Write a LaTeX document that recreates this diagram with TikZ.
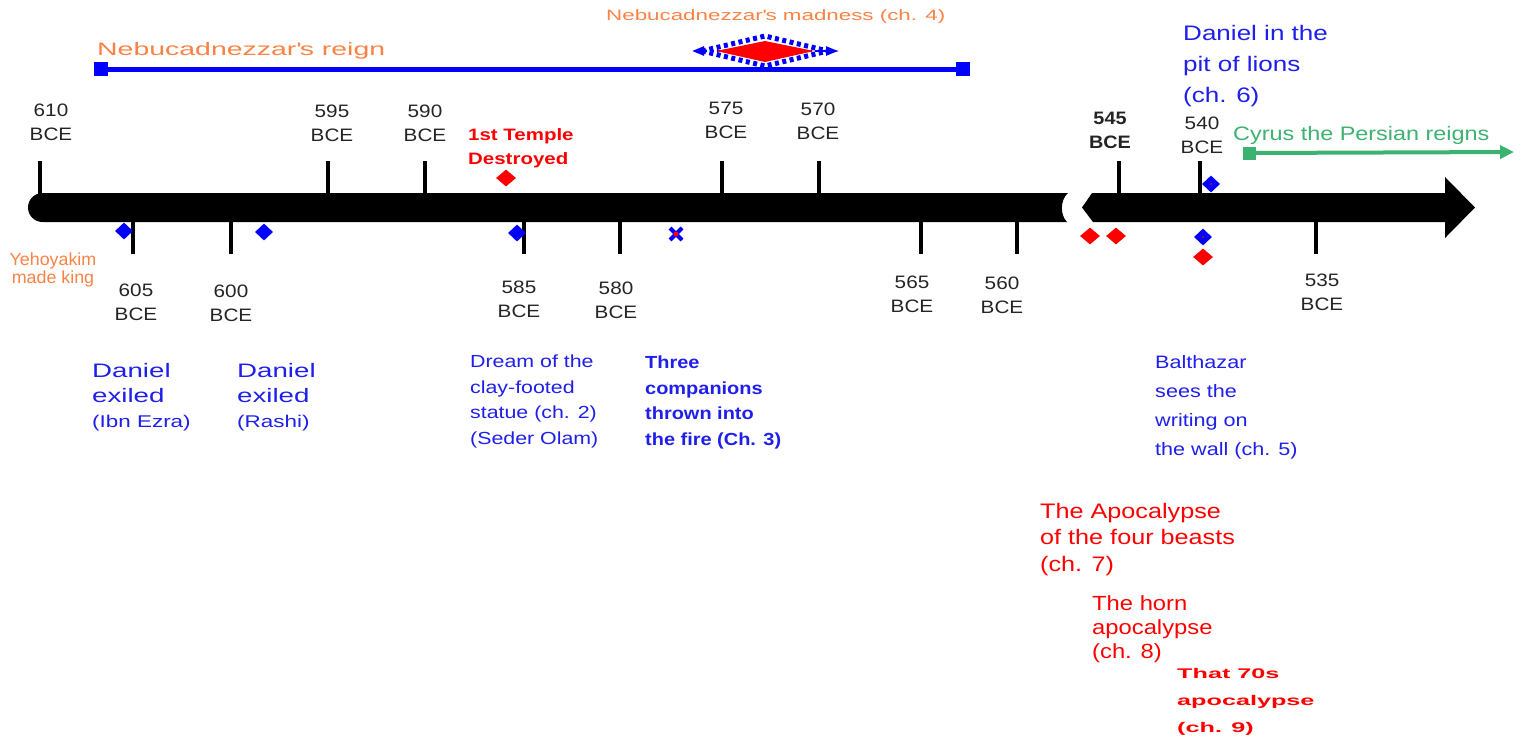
\documentclass[tikz,border=0pt]{standalone}
\usepackage{fontspec}
\setmainfont{Liberation Sans}
\usetikzlibrary{shapes.geometric,arrows.meta}
\newlength{\du}
\setlength{\du}{1pt}

\begin{document}
\begin{tikzpicture}[
  tick/.style={line width=4\du, black},
  yearlbl/.style={inner sep=0pt, anchor=north, align=center, text=yeargray,
    font=\fontsize{18}{24}\selectfont\addfontfeature{FakeStretch=1.15}},
  yearbold/.style={yearlbl, font=\fontsize{18}{24}\bfseries\selectfont\addfontfeature{FakeStretch=1.1}},
  lbl/.style n args={3}{inner sep=0pt, anchor=north west, align=left,
    font=\fontsize{#1}{#2}\selectfont\addfontfeature{FakeStretch=#3}},
  lblb/.style n args={3}{inner sep=0pt, anchor=north west, align=left,
    font=\fontsize{#1}{#2}\bfseries\selectfont\addfontfeature{FakeStretch=#3}},
  bluemark/.style={diamond, fill=tlblue, inner sep=0pt, minimum width=18\du, minimum height=17\du},
  redmark/.style={diamond, fill=tlred, inner sep=0pt, minimum width=20\du, minimum height=17\du},
  bluesq/.style={rectangle, fill=tlblue, inner sep=0pt, minimum size=14\du},
  greensq/.style={rectangle, fill=tlgreen, inner sep=0pt, minimum size=13\du},
]
\pgftransformxscale{1.000000}
\pgftransformyscale{-1.000000}
\definecolor{tlblue}{rgb}{0.000000, 0.000000, 1.000000}
\definecolor{txtblue}{rgb}{0.120000, 0.120000, 0.920000}
\definecolor{tlred}{rgb}{1.000000, 0.000000, 0.000000}
\definecolor{tlorange}{rgb}{0.980000, 0.510000, 0.270000}
\definecolor{tlgreen}{rgb}{0.235000, 0.700000, 0.440000}
\definecolor{yeargray}{rgb}{0.140000, 0.140000, 0.140000}
\useasboundingbox (0\du,0\du) rectangle (1525\du,740\du);
% reign of Nebucadnezzar
\node[bluesq] (reignL) at (101\du,69\du) {};
\node[bluesq] (reignR) at (963\du,69\du) {};
\draw[tlblue, line width=5\du] (reignL) -- (reignR);
\node[lbl={18}{22}{1.58}, text=tlorange] (reign) at (97\du,42\du) {Nebucadnezzar\textquotesingle s reign};
% madness
\coordinate (madC) at (765\du,51\du);
\draw[tlblue, line width=2.5\du, dash pattern=on 4\du off 3\du,
  {Triangle[length=12pt,width=9pt]}-{Triangle[length=12pt,width=9pt]}] (692\du,51\du) -- (838\du,51\du);
\fill[tlred] (716\du,51\du) -- (765\du,41\du) -- (814\du,51\du) -- (765\du,62\du) -- cycle;
\draw[tlblue, line width=5\du, dash pattern=on 4\du off 3.5\du] (702\du,51\du) -- (765\du,36\du) -- (828\du,51\du) -- (765\du,66\du) -- cycle;
\node[lbl={15}{18}{1.49}, text=tlorange] (madness) at (606\du,9\du) {Nebucadnezzar\textquotesingle s madness (ch. 4)};
% Cyrus
\node[greensq] (cyrusL) at (1249\du,153\du) {};
\coordinate (cyrusR) at (1514\du,152\du);
\draw[tlgreen, line width=4\du, -{Triangle[length=14pt,width=13pt]}] (cyrusL) -- (cyrusR);
\node[lbl={19.5}{26}{1.2}, text=tlgreen] (cyrus) at (1233\du,126\du) {Cyrus the Persian reigns};
% the time line, broken
\fill[black] (42.5\du,193\du) -- (1068\du,193\du) .. controls (1060\du,200\du) and (1060\du,215\du) .. (1067\du,222\du)
  -- (42.5\du,222\du) arc[start angle=90, end angle=270, radius=14.5\du] -- cycle;
\fill[black] (1082\du,207.5\du) -- (1092\du,193\du) -- (1445\du,193\du) -- (1445\du,177\du) -- (1475\du,207.5\du)
  -- (1445\du,238\du) -- (1445\du,222\du) -- (1093\du,222\du) -- cycle;
% ticks above
\draw[tick] (40\du,161\du) -- (40\du,194\du);
\draw[tick] (328\du,161\du) -- (328\du,194\du);
\draw[tick] (425\du,161\du) -- (425\du,194\du);
\draw[tick] (722\du,161\du) -- (722\du,194\du);
\draw[tick] (819\du,161\du) -- (819\du,194\du);
\draw[tick] (1119\du,161\du) -- (1119\du,194\du);
\draw[tick] (1200\du,161\du) -- (1200\du,194\du);
% ticks below
\draw[tick] (133\du,221\du) -- (133\du,254\du);
\draw[tick] (231\du,221\du) -- (231\du,254\du);
\draw[tick] (524\du,221\du) -- (524\du,254\du);
\draw[tick] (620\du,221\du) -- (620\du,254\du);
\draw[tick] (921\du,221\du) -- (921\du,254\du);
\draw[tick] (1017\du,221\du) -- (1017\du,254\du);
\draw[tick] (1316\du,221\du) -- (1316\du,254\du);
% years
\node[yearlbl] (y610) at (51\du,104\du) {610\\BCE};
\node[yearlbl] (y595) at (332\du,105\du) {595\\BCE};
\node[yearlbl] (y590) at (425\du,105\du) {590\\BCE};
\node[yearlbl] (y575) at (726\du,102\du) {575\\BCE};
\node[yearlbl] (y570) at (818\du,103\du) {570\\BCE};
\node[yearbold] (y545) at (1110\du,112\du) {545\\BCE};
\node[yearlbl] (y540) at (1202\du,117\du) {540\\BCE};
\node[yearlbl] (y605) at (136\du,284\du) {605\\BCE};
\node[yearlbl] (y600) at (231\du,285\du) {600\\BCE};
\node[yearlbl] (y585) at (519\du,281\du) {585\\BCE};
\node[yearlbl] (y580) at (616\du,282\du) {580\\BCE};
\node[yearlbl] (y565) at (912\du,276\du) {565\\BCE};
\node[yearlbl] (y560) at (1002\du,277\du) {560\\BCE};
\node[yearlbl] (y535) at (1322\du,274\du) {535\\BCE};
% markers
\node[bluemark] (mA) at (124\du,231\du) {};
\node[bluemark] (mB) at (264\du,232\du) {};
\node[redmark] (mC) at (506\du,178\du) {};
\node[bluemark] (mD) at (517\du,233\du) {};
\draw[tlblue, line width=4\du] (670\du,228\du) -- (682\du,240\du) (682\du,228\du) -- (670\du,240\du);
\fill[tlred] (676\du,234\du) circle[radius=2.5\du];
\node[redmark] (mF) at (1090\du,236\du) {};
\node[redmark] (mG) at (1116\du,236\du) {};
\node[bluemark] (mH) at (1211\du,184\du) {};
\fill[tlred] (mH) circle[radius=1\du];
\node[bluemark] (mI) at (1203\du,237\du) {};
\fill[tlred] (mI) circle[radius=1\du];
\node[redmark] (mJ) at (1203\du,257\du) {};
% events
\node[lbl={21}{31}{1.24}, text=txtblue] (lions) at (1183\du,25\du) {Daniel in the\\pit of lions\\(ch. 6)};
\node[lblb={16.5}{24}{1.24}, text=tlred] (temple) at (468\du,128\du) {1st Temple\\Destroyed};
\node[lbl={17.5}{16}{1.02}, text=tlorange, anchor=north, align=center] (yehoyakim) at (53\du,253\du) {Yehoyakim\\made king};
\node[lbl={19.5}{25}{1.42}, text=txtblue] (exileIE) at (92\du,363\du) {Daniel\\exiled\\{\fontsize{17}{25}\selectfont\addfontfeature{FakeStretch=1.32}(Ibn Ezra)}};
\node[lbl={19.5}{25}{1.42}, text=txtblue] (exileR) at (237\du,363\du) {Daniel\\exiled\\{\fontsize{17}{25}\selectfont\addfontfeature{FakeStretch=1.32}(Rashi)}};
\node[lbl={17.5}{25.5}{1.22}, text=txtblue] (dream) at (470\du,355\du) {Dream of the\\clay-footed\\statue (ch. 2)\\(Seder Olam)};
\node[lblb={17.5}{25.5}{1.14}, text=txtblue] (fire) at (645\du,356\du) {Three\\companions\\thrown into\\the fire (Ch. 3)};
\node[lbl={18}{29}{1.2}, text=txtblue] (wall) at (1155\du,355\du) {Balthazar\\sees the\\writing on\\the wall (ch. 5)};
\node[lbl={21}{26.5}{1.2}, text=tlred] (beasts) at (1040\du,503\du) {The Apocalypse\\of the four beasts\\(ch. 7)};
\node[lbl={20.5}{24}{1.16}, text=tlred] (horn) at (1092\du,595\du) {The horn\\apocalypse\\(ch. 8)};
\node[lblb={14}{27}{1.8}, text=tlred] (seventy) at (1177\du,668\du) {That 70s\\apocalypse\\(ch. 9)};
\end{tikzpicture}
\end{document}
